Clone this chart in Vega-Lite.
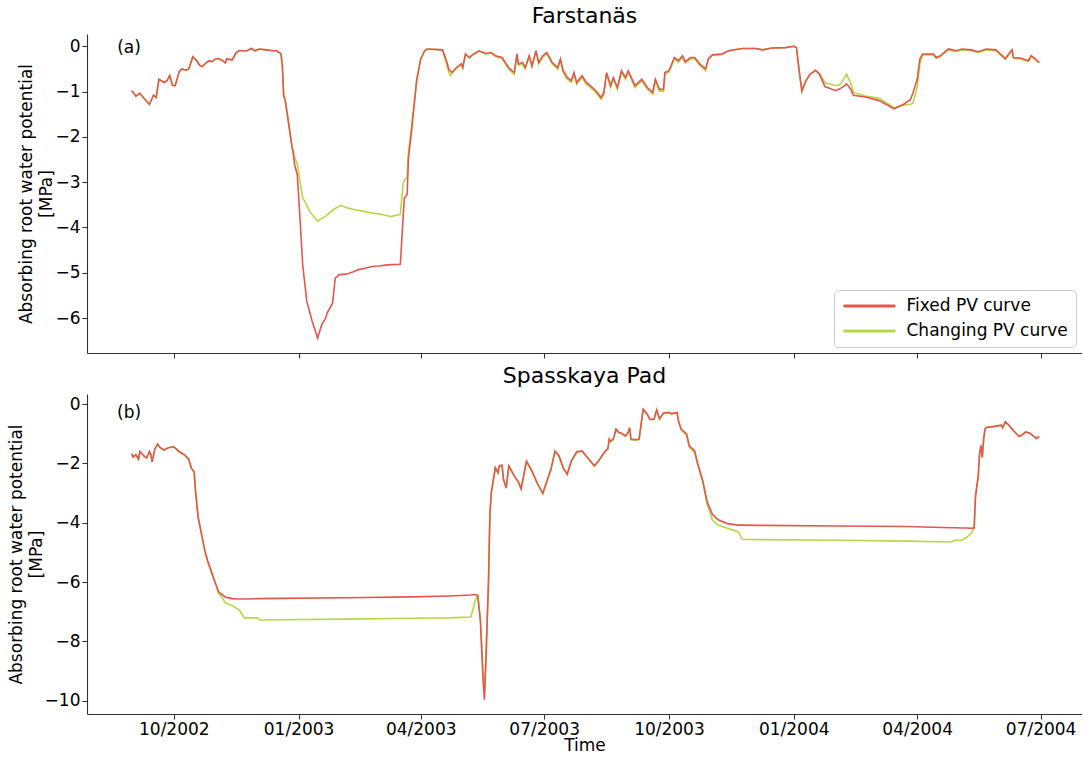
{
  "$schema": "https://vega.github.io/schema/vega-lite/v6.json",
  "background": "white",
  "padding": {"left": 7, "top": 5, "right": 0, "bottom": 0},
  "spacing": 6,
  "config": {
    "font": "DejaVu Sans",
    "view": {"stroke": null},
    "axis": {"grid": false, "domainColor": "#333333", "tickColor": "#333333", "labelColor": "#000000", "titleColor": "#000000", "labelFontSize": 17, "titleFontSize": 17, "titleFontWeight": "normal", "tickSize": 5, "labelPadding": 4, "domainWidth": 1.1, "tickWidth": 1.1},
    "axisY": {"labelPadding": 2},
    "title": {"fontSize": 22, "fontWeight": "normal", "color": "#000000", "offset": 6}
  },
  "resolve": {"legend": {"color": "independent"}},
  "datasets": {
    "farstanas": [
      {"date":"2002-08-31","fixed":-0.98,"changing":-0.98},
      {"date":"2002-09-03","fixed":-1.10,"changing":-1.10},
      {"date":"2002-09-06","fixed":-1.04,"changing":-1.04},
      {"date":"2002-09-09","fixed":-1.15,"changing":-1.15},
      {"date":"2002-09-13","fixed":-1.28,"changing":-1.28},
      {"date":"2002-09-16","fixed":-1.08,"changing":-1.08},
      {"date":"2002-09-18","fixed":-1.13,"changing":-1.13},
      {"date":"2002-09-20","fixed":-0.73,"changing":-0.73},
      {"date":"2002-09-24","fixed":-0.80,"changing":-0.80},
      {"date":"2002-09-26","fixed":-0.76,"changing":-0.76},
      {"date":"2002-09-28","fixed":-0.65,"changing":-0.65},
      {"date":"2002-09-30","fixed":-0.86,"changing":-0.86},
      {"date":"2002-10-02","fixed":-0.87,"changing":-0.87},
      {"date":"2002-10-05","fixed":-0.56,"changing":-0.56},
      {"date":"2002-10-07","fixed":-0.50,"changing":-0.50},
      {"date":"2002-10-10","fixed":-0.53,"changing":-0.53},
      {"date":"2002-10-12","fixed":-0.50,"changing":-0.50},
      {"date":"2002-10-15","fixed":-0.23,"changing":-0.23},
      {"date":"2002-10-18","fixed":-0.32,"changing":-0.32},
      {"date":"2002-10-20","fixed":-0.42,"changing":-0.42},
      {"date":"2002-10-22","fixed":-0.45,"changing":-0.45},
      {"date":"2002-10-25","fixed":-0.36,"changing":-0.36},
      {"date":"2002-10-27","fixed":-0.32,"changing":-0.32},
      {"date":"2002-10-29","fixed":-0.34,"changing":-0.34},
      {"date":"2002-11-01","fixed":-0.28,"changing":-0.28},
      {"date":"2002-11-03","fixed":-0.27,"changing":-0.27},
      {"date":"2002-11-06","fixed":-0.32,"changing":-0.32},
      {"date":"2002-11-08","fixed":-0.37,"changing":-0.37},
      {"date":"2002-11-09","fixed":-0.28,"changing":-0.28},
      {"date":"2002-11-13","fixed":-0.30,"changing":-0.30},
      {"date":"2002-11-16","fixed":-0.14,"changing":-0.14},
      {"date":"2002-11-18","fixed":-0.10,"changing":-0.10},
      {"date":"2002-11-24","fixed":-0.10,"changing":-0.10},
      {"date":"2002-11-27","fixed":-0.05,"changing":-0.05},
      {"date":"2002-11-30","fixed":-0.10,"changing":-0.10},
      {"date":"2002-12-03","fixed":-0.06,"changing":-0.06},
      {"date":"2002-12-08","fixed":-0.08,"changing":-0.08},
      {"date":"2002-12-13","fixed":-0.10,"changing":-0.10},
      {"date":"2002-12-16","fixed":-0.10,"changing":-0.10},
      {"date":"2002-12-19","fixed":-0.17,"changing":-0.17},
      {"date":"2002-12-20","fixed":-0.43,"changing":-0.43},
      {"date":"2002-12-21","fixed":-1.10,"changing":-1.10},
      {"date":"2002-12-22","fixed":-1.17,"changing":-1.17},
      {"date":"2002-12-24","fixed":-1.57,"changing":-1.57},
      {"date":"2002-12-27","fixed":-2.20,"changing":-2.18},
      {"date":"2002-12-28","fixed":-2.35,"changing":-2.31},
      {"date":"2002-12-29","fixed":-2.61,"changing":-2.45},
      {"date":"2002-12-31","fixed":-2.83,"changing":-2.60},
      {"date":"2003-01-02","fixed":-3.79,"changing":-2.98},
      {"date":"2003-01-04","fixed":-4.82,"changing":-3.35},
      {"date":"2003-01-07","fixed":-5.63,"changing":-3.50},
      {"date":"2003-01-09","fixed":-5.85,"changing":-3.64},
      {"date":"2003-01-11","fixed":-6.07,"changing":-3.72},
      {"date":"2003-01-15","fixed":-6.44,"changing":-3.86},
      {"date":"2003-01-18","fixed":-6.15,"changing":-3.80},
      {"date":"2003-01-21","fixed":-6.00,"changing":-3.75},
      {"date":"2003-01-22","fixed":-5.89,"changing":-3.72},
      {"date":"2003-01-26","fixed":-5.67,"changing":-3.62},
      {"date":"2003-01-28","fixed":-5.12,"changing":-3.58},
      {"date":"2003-01-31","fixed":-5.04,"changing":-3.53},
      {"date":"2003-02-01","fixed":-5.04,"changing":-3.51},
      {"date":"2003-02-05","fixed":-5.03,"changing":-3.56},
      {"date":"2003-02-10","fixed":-4.98,"changing":-3.60},
      {"date":"2003-02-14","fixed":-4.93,"changing":-3.62},
      {"date":"2003-02-19","fixed":-4.90,"changing":-3.65},
      {"date":"2003-02-24","fixed":-4.86,"changing":-3.68},
      {"date":"2003-03-01","fixed":-4.85,"changing":-3.70},
      {"date":"2003-03-06","fixed":-4.83,"changing":-3.73},
      {"date":"2003-03-10","fixed":-4.82,"changing":-3.76},
      {"date":"2003-03-17","fixed":-4.81,"changing":-3.71},
      {"date":"2003-03-19","fixed":-3.79,"changing":-3.05},
      {"date":"2003-03-20","fixed":-3.35,"changing":-2.95},
      {"date":"2003-03-22","fixed":-3.27,"changing":-2.90},
      {"date":"2003-03-23","fixed":-2.46,"changing":-2.30},
      {"date":"2003-03-25","fixed":-1.94,"changing":-1.85},
      {"date":"2003-03-27","fixed":-1.35,"changing":-1.30},
      {"date":"2003-03-29","fixed":-0.76,"changing":-0.76},
      {"date":"2003-04-01","fixed":-0.28,"changing":-0.28},
      {"date":"2003-04-04","fixed":-0.10,"changing":-0.10},
      {"date":"2003-04-06","fixed":-0.06,"changing":-0.06},
      {"date":"2003-04-17","fixed":-0.08,"changing":-0.08},
      {"date":"2003-04-20","fixed":-0.32,"changing":-0.40},
      {"date":"2003-04-22","fixed":-0.53,"changing":-0.60},
      {"date":"2003-04-23","fixed":-0.55,"changing":-0.65},
      {"date":"2003-04-24","fixed":-0.58,"changing":-0.60},
      {"date":"2003-04-27","fixed":-0.48,"changing":-0.50},
      {"date":"2003-05-01","fixed":-0.39,"changing":-0.40},
      {"date":"2003-05-02","fixed":-0.47,"changing":-0.48},
      {"date":"2003-05-04","fixed":-0.17,"changing":-0.18},
      {"date":"2003-05-07","fixed":-0.25,"changing":-0.26},
      {"date":"2003-05-09","fixed":-0.19,"changing":-0.20},
      {"date":"2003-05-14","fixed":-0.10,"changing":-0.11},
      {"date":"2003-05-19","fixed":-0.16,"changing":-0.17},
      {"date":"2003-05-23","fixed":-0.14,"changing":-0.15},
      {"date":"2003-05-26","fixed":-0.21,"changing":-0.22},
      {"date":"2003-05-31","fixed":-0.25,"changing":-0.27},
      {"date":"2003-06-05","fixed":-0.48,"changing":-0.51},
      {"date":"2003-06-09","fixed":-0.58,"changing":-0.62},
      {"date":"2003-06-10","fixed":-0.36,"changing":-0.39},
      {"date":"2003-06-11","fixed":-0.17,"changing":-0.20},
      {"date":"2003-06-12","fixed":-0.39,"changing":-0.42},
      {"date":"2003-06-15","fixed":-0.36,"changing":-0.39},
      {"date":"2003-06-17","fixed":-0.47,"changing":-0.50},
      {"date":"2003-06-20","fixed":-0.21,"changing":-0.24},
      {"date":"2003-06-22","fixed":-0.43,"changing":-0.46},
      {"date":"2003-06-25","fixed":-0.10,"changing":-0.13},
      {"date":"2003-06-27","fixed":-0.36,"changing":-0.39},
      {"date":"2003-06-30","fixed":-0.21,"changing":-0.24},
      {"date":"2003-07-03","fixed":-0.14,"changing":-0.17},
      {"date":"2003-07-07","fixed":-0.36,"changing":-0.39},
      {"date":"2003-07-11","fixed":-0.47,"changing":-0.51},
      {"date":"2003-07-13","fixed":-0.28,"changing":-0.31},
      {"date":"2003-07-15","fixed":-0.54,"changing":-0.58},
      {"date":"2003-07-18","fixed":-0.69,"changing":-0.73},
      {"date":"2003-07-21","fixed":-0.76,"changing":-0.80},
      {"date":"2003-07-23","fixed":-0.58,"changing":-0.62},
      {"date":"2003-07-25","fixed":-0.80,"changing":-0.84},
      {"date":"2003-07-29","fixed":-0.65,"changing":-0.69},
      {"date":"2003-08-01","fixed":-0.80,"changing":-0.84},
      {"date":"2003-08-04","fixed":-0.87,"changing":-0.91},
      {"date":"2003-08-08","fixed":-0.98,"changing":-1.02},
      {"date":"2003-08-12","fixed":-1.13,"changing":-1.17},
      {"date":"2003-08-14","fixed":-1.02,"changing":-1.06},
      {"date":"2003-08-16","fixed":-0.58,"changing":-0.62},
      {"date":"2003-08-19","fixed":-0.87,"changing":-0.91},
      {"date":"2003-08-21","fixed":-0.69,"changing":-0.73},
      {"date":"2003-08-24","fixed":-0.91,"changing":-0.95},
      {"date":"2003-08-27","fixed":-0.54,"changing":-0.58},
      {"date":"2003-08-30","fixed":-0.69,"changing":-0.73},
      {"date":"2003-09-01","fixed":-0.54,"changing":-0.58},
      {"date":"2003-09-06","fixed":-0.87,"changing":-0.91},
      {"date":"2003-09-11","fixed":-0.73,"changing":-0.77},
      {"date":"2003-09-15","fixed":-0.91,"changing":-0.95},
      {"date":"2003-09-19","fixed":-1.02,"changing":-1.06},
      {"date":"2003-09-21","fixed":-0.73,"changing":-0.77},
      {"date":"2003-09-24","fixed":-0.95,"changing":-0.99},
      {"date":"2003-09-27","fixed":-0.95,"changing":-0.99},
      {"date":"2003-09-28","fixed":-0.58,"changing":-0.62},
      {"date":"2003-10-01","fixed":-0.54,"changing":-0.57},
      {"date":"2003-10-05","fixed":-0.25,"changing":-0.28},
      {"date":"2003-10-08","fixed":-0.32,"changing":-0.35},
      {"date":"2003-10-11","fixed":-0.21,"changing":-0.24},
      {"date":"2003-10-13","fixed":-0.34,"changing":-0.37},
      {"date":"2003-10-17","fixed":-0.25,"changing":-0.28},
      {"date":"2003-10-20","fixed":-0.25,"changing":-0.28},
      {"date":"2003-10-24","fixed":-0.40,"changing":-0.43},
      {"date":"2003-10-28","fixed":-0.50,"changing":-0.54},
      {"date":"2003-10-30","fixed":-0.28,"changing":-0.30},
      {"date":"2003-11-02","fixed":-0.19,"changing":-0.20},
      {"date":"2003-11-09","fixed":-0.17,"changing":-0.18},
      {"date":"2003-11-14","fixed":-0.10,"changing":-0.10},
      {"date":"2003-11-24","fixed":-0.05,"changing":-0.05},
      {"date":"2003-12-04","fixed":-0.05,"changing":-0.05},
      {"date":"2003-12-09","fixed":-0.08,"changing":-0.08},
      {"date":"2003-12-16","fixed":-0.04,"changing":-0.04},
      {"date":"2003-12-26","fixed":-0.03,"changing":-0.03},
      {"date":"2004-01-01","fixed":0.0,"changing":0.0},
      {"date":"2004-01-03","fixed":-0.03,"changing":-0.03},
      {"date":"2004-01-05","fixed":-0.54,"changing":-0.56},
      {"date":"2004-01-07","fixed":-0.98,"changing":-1.00},
      {"date":"2004-01-10","fixed":-0.76,"changing":-0.77},
      {"date":"2004-01-13","fixed":-0.62,"changing":-0.62},
      {"date":"2004-01-17","fixed":-0.53,"changing":-0.53},
      {"date":"2004-01-20","fixed":-0.62,"changing":-0.60},
      {"date":"2004-01-24","fixed":-0.89,"changing":-0.80},
      {"date":"2004-02-01","fixed":-0.98,"changing":-0.87},
      {"date":"2004-02-04","fixed":-0.94,"changing":-0.85},
      {"date":"2004-02-07","fixed":-0.88,"changing":-0.72},
      {"date":"2004-02-09","fixed":-0.83,"changing":-0.62},
      {"date":"2004-02-12","fixed":-0.95,"changing":-0.82},
      {"date":"2004-02-14","fixed":-1.08,"changing":-1.02},
      {"date":"2004-02-23","fixed":-1.12,"changing":-1.10},
      {"date":"2004-03-04","fixed":-1.20,"changing":-1.15},
      {"date":"2004-03-12","fixed":-1.33,"changing":-1.30},
      {"date":"2004-03-15","fixed":-1.38,"changing":-1.36},
      {"date":"2004-03-22","fixed":-1.28,"changing":-1.30},
      {"date":"2004-03-27","fixed":-1.18,"changing":-1.28},
      {"date":"2004-03-29","fixed":-1.02,"changing":-1.25},
      {"date":"2004-04-01","fixed":-0.73,"changing":-0.90},
      {"date":"2004-04-03","fixed":-0.28,"changing":-0.40},
      {"date":"2004-04-05","fixed":-0.17,"changing":-0.19},
      {"date":"2004-04-13","fixed":-0.17,"changing":-0.19},
      {"date":"2004-04-15","fixed":-0.25,"changing":-0.27},
      {"date":"2004-04-18","fixed":-0.21,"changing":-0.23},
      {"date":"2004-04-24","fixed":-0.06,"changing":-0.08},
      {"date":"2004-04-30","fixed":-0.10,"changing":-0.12},
      {"date":"2004-05-04","fixed":-0.06,"changing":-0.08},
      {"date":"2004-05-11","fixed":-0.08,"changing":-0.10},
      {"date":"2004-05-16","fixed":-0.12,"changing":-0.14},
      {"date":"2004-05-22","fixed":-0.06,"changing":-0.08},
      {"date":"2004-05-29","fixed":-0.08,"changing":-0.10},
      {"date":"2004-06-05","fixed":-0.27,"changing":-0.29},
      {"date":"2004-06-08","fixed":-0.15,"changing":-0.17},
      {"date":"2004-06-10","fixed":-0.08,"changing":-0.10},
      {"date":"2004-06-11","fixed":-0.25,"changing":-0.27},
      {"date":"2004-06-16","fixed":-0.26,"changing":-0.28},
      {"date":"2004-06-22","fixed":-0.32,"changing":-0.34},
      {"date":"2004-06-24","fixed":-0.21,"changing":-0.23},
      {"date":"2004-06-26","fixed":-0.25,"changing":-0.27},
      {"date":"2004-06-30","fixed":-0.36,"changing":-0.37}
    ],
    "spasskaya": [
      {"date":"2002-08-31","fixed":-1.67,"changing":-1.67},
      {"date":"2002-09-01","fixed":-1.78,"changing":-1.78},
      {"date":"2002-09-03","fixed":-1.71,"changing":-1.71},
      {"date":"2002-09-05","fixed":-1.86,"changing":-1.86},
      {"date":"2002-09-06","fixed":-1.60,"changing":-1.60},
      {"date":"2002-09-09","fixed":-1.75,"changing":-1.75},
      {"date":"2002-09-11","fixed":-1.82,"changing":-1.82},
      {"date":"2002-09-13","fixed":-1.60,"changing":-1.60},
      {"date":"2002-09-14","fixed":-1.69,"changing":-1.69},
      {"date":"2002-09-15","fixed":-1.95,"changing":-1.95},
      {"date":"2002-09-17","fixed":-1.52,"changing":-1.52},
      {"date":"2002-09-19","fixed":-1.35,"changing":-1.35},
      {"date":"2002-09-21","fixed":-1.47,"changing":-1.47},
      {"date":"2002-09-24","fixed":-1.55,"changing":-1.55},
      {"date":"2002-09-27","fixed":-1.47,"changing":-1.47},
      {"date":"2002-10-01","fixed":-1.44,"changing":-1.44},
      {"date":"2002-10-03","fixed":-1.52,"changing":-1.54},
      {"date":"2002-10-05","fixed":-1.60,"changing":-1.62},
      {"date":"2002-10-09","fixed":-1.71,"changing":-1.73},
      {"date":"2002-10-12","fixed":-1.86,"changing":-1.88},
      {"date":"2002-10-14","fixed":-2.16,"changing":-2.18},
      {"date":"2002-10-16","fixed":-2.28,"changing":-2.30},
      {"date":"2002-10-17","fixed":-2.93,"changing":-2.95},
      {"date":"2002-10-19","fixed":-3.83,"changing":-3.85},
      {"date":"2002-10-22","fixed":-4.51,"changing":-4.53},
      {"date":"2002-10-24","fixed":-4.96,"changing":-5.00},
      {"date":"2002-10-26","fixed":-5.29,"changing":-5.33},
      {"date":"2002-10-29","fixed":-5.69,"changing":-5.72},
      {"date":"2002-11-01","fixed":-6.08,"changing":-6.10},
      {"date":"2002-11-03","fixed":-6.33,"changing":-6.38},
      {"date":"2002-11-05","fixed":-6.40,"changing":-6.48},
      {"date":"2002-11-08","fixed":-6.51,"changing":-6.70},
      {"date":"2002-11-13","fixed":-6.56,"changing":-6.80},
      {"date":"2002-11-18","fixed":-6.57,"changing":-6.93},
      {"date":"2002-11-22","fixed":-6.57,"changing":-7.21},
      {"date":"2002-12-02","fixed":-6.56,"changing":-7.21},
      {"date":"2002-12-03","fixed":-6.56,"changing":-7.28},
      {"date":"2002-12-17","fixed":-6.55,"changing":-7.27},
      {"date":"2003-02-05","fixed":-6.53,"changing":-7.25},
      {"date":"2003-03-26","fixed":-6.50,"changing":-7.22},
      {"date":"2003-04-22","fixed":-6.47,"changing":-7.21},
      {"date":"2003-05-08","fixed":-6.44,"changing":-7.18},
      {"date":"2003-05-11","fixed":-6.42,"changing":-6.65},
      {"date":"2003-05-13","fixed":-6.45,"changing":-6.42},
      {"date":"2003-05-15","fixed":-7.32,"changing":-7.20},
      {"date":"2003-05-17","fixed":-9.35,"changing":-9.10},
      {"date":"2003-05-18","fixed":-9.97,"changing":-9.60},
      {"date":"2003-05-19","fixed":-8.78,"changing":-8.60},
      {"date":"2003-05-21","fixed":-5.97,"changing":-5.90},
      {"date":"2003-05-22","fixed":-3.72,"changing":-3.70},
      {"date":"2003-05-23","fixed":-3.00,"changing":-3.00},
      {"date":"2003-05-26","fixed":-2.14,"changing":-2.16},
      {"date":"2003-05-28","fixed":-2.31,"changing":-2.33},
      {"date":"2003-05-29","fixed":-2.08,"changing":-2.10},
      {"date":"2003-05-31","fixed":-2.06,"changing":-2.08},
      {"date":"2003-06-01","fixed":-2.53,"changing":-2.55},
      {"date":"2003-06-03","fixed":-2.82,"changing":-2.84},
      {"date":"2003-06-05","fixed":-2.08,"changing":-2.10},
      {"date":"2003-06-09","fixed":-2.42,"changing":-2.44},
      {"date":"2003-06-12","fixed":-2.62,"changing":-2.64},
      {"date":"2003-06-14","fixed":-2.85,"changing":-2.87},
      {"date":"2003-06-18","fixed":-1.92,"changing":-1.94},
      {"date":"2003-06-22","fixed":-2.25,"changing":-2.27},
      {"date":"2003-06-26","fixed":-2.67,"changing":-2.69},
      {"date":"2003-06-30","fixed":-3.01,"changing":-3.03},
      {"date":"2003-07-03","fixed":-2.59,"changing":-2.61},
      {"date":"2003-07-06","fixed":-2.20,"changing":-2.22},
      {"date":"2003-07-09","fixed":-1.58,"changing":-1.60},
      {"date":"2003-07-12","fixed":-1.75,"changing":-1.77},
      {"date":"2003-07-15","fixed":-2.14,"changing":-2.16},
      {"date":"2003-07-18","fixed":-2.36,"changing":-2.38},
      {"date":"2003-07-21","fixed":-1.92,"changing":-1.94},
      {"date":"2003-07-25","fixed":-1.61,"changing":-1.63},
      {"date":"2003-07-29","fixed":-1.58,"changing":-1.60},
      {"date":"2003-08-02","fixed":-1.80,"changing":-1.82},
      {"date":"2003-08-07","fixed":-2.08,"changing":-2.10},
      {"date":"2003-08-10","fixed":-1.92,"changing":-1.94},
      {"date":"2003-08-15","fixed":-1.58,"changing":-1.60},
      {"date":"2003-08-17","fixed":-1.50,"changing":-1.52},
      {"date":"2003-08-18","fixed":-1.18,"changing":-1.20},
      {"date":"2003-08-19","fixed":-1.25,"changing":-1.27},
      {"date":"2003-08-21","fixed":-1.18,"changing":-1.20},
      {"date":"2003-08-23","fixed":-0.84,"changing":-0.86},
      {"date":"2003-08-25","fixed":-0.95,"changing":-0.97},
      {"date":"2003-08-27","fixed":-0.98,"changing":-1.00},
      {"date":"2003-08-30","fixed":-1.07,"changing":-1.09},
      {"date":"2003-09-01","fixed":-0.95,"changing":-0.97},
      {"date":"2003-09-02","fixed":-0.79,"changing":-0.81},
      {"date":"2003-09-03","fixed":-1.18,"changing":-1.20},
      {"date":"2003-09-06","fixed":-1.20,"changing":-1.22},
      {"date":"2003-09-09","fixed":-1.18,"changing":-1.20},
      {"date":"2003-09-12","fixed":-0.17,"changing":-0.19},
      {"date":"2003-09-15","fixed":-0.34,"changing":-0.36},
      {"date":"2003-09-17","fixed":-0.51,"changing":-0.53},
      {"date":"2003-09-20","fixed":-0.51,"changing":-0.53},
      {"date":"2003-09-22","fixed":-0.19,"changing":-0.21},
      {"date":"2003-09-24","fixed":-0.49,"changing":-0.51},
      {"date":"2003-09-27","fixed":-0.30,"changing":-0.32},
      {"date":"2003-10-01","fixed":-0.28,"changing":-0.30},
      {"date":"2003-10-03","fixed":-0.32,"changing":-0.34},
      {"date":"2003-10-07","fixed":-0.28,"changing":-0.30},
      {"date":"2003-10-08","fixed":-0.56,"changing":-0.58},
      {"date":"2003-10-10","fixed":-0.84,"changing":-0.87},
      {"date":"2003-10-14","fixed":-1.01,"changing":-1.05},
      {"date":"2003-10-16","fixed":-1.41,"changing":-1.45},
      {"date":"2003-10-20","fixed":-1.58,"changing":-1.65},
      {"date":"2003-10-22","fixed":-1.97,"changing":-2.02},
      {"date":"2003-10-26","fixed":-2.59,"changing":-2.65},
      {"date":"2003-10-28","fixed":-3.04,"changing":-3.10},
      {"date":"2003-10-29","fixed":-3.27,"changing":-3.35},
      {"date":"2003-11-02","fixed":-3.72,"changing":-3.90},
      {"date":"2003-11-06","fixed":-3.89,"changing":-4.08},
      {"date":"2003-11-13","fixed":-4.03,"changing":-4.19},
      {"date":"2003-11-21","fixed":-4.08,"changing":-4.30},
      {"date":"2003-11-24","fixed":-4.08,"changing":-4.56},
      {"date":"2003-12-06","fixed":-4.09,"changing":-4.57},
      {"date":"2004-02-03","fixed":-4.11,"changing":-4.59},
      {"date":"2004-03-24","fixed":-4.13,"changing":-4.62},
      {"date":"2004-04-26","fixed":-4.17,"changing":-4.65},
      {"date":"2004-04-29","fixed":-4.17,"changing":-4.59},
      {"date":"2004-05-04","fixed":-4.18,"changing":-4.59},
      {"date":"2004-05-08","fixed":-4.18,"changing":-4.48},
      {"date":"2004-05-11","fixed":-4.19,"changing":-4.34},
      {"date":"2004-05-13","fixed":-4.17,"changing":-4.17},
      {"date":"2004-05-14","fixed":-3.10,"changing":-3.10},
      {"date":"2004-05-16","fixed":-2.42,"changing":-2.42},
      {"date":"2004-05-17","fixed":-1.69,"changing":-1.69},
      {"date":"2004-05-18","fixed":-1.39,"changing":-1.39},
      {"date":"2004-05-19","fixed":-1.80,"changing":-1.80},
      {"date":"2004-05-20","fixed":-1.18,"changing":-1.18},
      {"date":"2004-05-21","fixed":-0.84,"changing":-0.84},
      {"date":"2004-05-22","fixed":-0.79,"changing":-0.79},
      {"date":"2004-05-27","fixed":-0.76,"changing":-0.76},
      {"date":"2004-06-02","fixed":-0.71,"changing":-0.71},
      {"date":"2004-06-03","fixed":-0.79,"changing":-0.79},
      {"date":"2004-06-05","fixed":-0.60,"changing":-0.60},
      {"date":"2004-06-08","fixed":-0.73,"changing":-0.73},
      {"date":"2004-06-11","fixed":-0.90,"changing":-0.90},
      {"date":"2004-06-15","fixed":-1.09,"changing":-1.09},
      {"date":"2004-06-17","fixed":-1.05,"changing":-1.05},
      {"date":"2004-06-20","fixed":-0.94,"changing":-0.94},
      {"date":"2004-06-23","fixed":-0.98,"changing":-0.98},
      {"date":"2004-06-26","fixed":-1.09,"changing":-1.09},
      {"date":"2004-06-28","fixed":-1.16,"changing":-1.16},
      {"date":"2004-06-30","fixed":-1.09,"changing":-1.09}
    ],
    "labels": [
      {"panel":"a","label":"(a)","date":"2002-08-29","v":-0.03},
      {"panel":"b","label":"(b)","date":"2002-08-29","v":-0.29}
    ]
  },
  "vconcat": [
    {
      "title": "Farstanäs",
      "width": 995,
      "height": 319,
      "layer": [
        {
          "data": {"name": "farstanas"},
          "mark": {"type": "line", "strokeWidth": 1.6},
          "encoding": {
            "x": {"field": "date", "type": "temporal",
              "scale": {"type": "utc", "domain": [{"year":2002,"month":7,"date":29,"utc":true},{"year":2004,"month":7,"date":31,"hours":12,"utc":true}]},
              "axis": {"labels": false, "title": null, "values": [{"year":2002,"month":10,"date":1,"utc":true},{"year":2003,"month":1,"date":1,"utc":true},{"year":2003,"month":4,"date":1,"utc":true},{"year":2003,"month":7,"date":1,"utc":true},{"year":2003,"month":10,"date":1,"utc":true},{"year":2004,"month":1,"date":1,"utc":true},{"year":2004,"month":4,"date":1,"utc":true},{"year":2004,"month":7,"date":1,"utc":true}]}},
            "y": {"field": "changing", "type": "quantitative",
              "scale": {"domain": [-6.77, 0.27], "nice": false, "zero": false},
              "axis": {"values": [0,-1,-2,-3,-4,-5,-6], "title": ["Absorbing root water potential", "[MPa]"], "titlePadding": -1, "titleLineHeight": 20}},
            "color": {"datum": "Changing PV curve", "type": "nominal",
              "scale": {"domain": ["Fixed PV curve", "Changing PV curve"], "range": ["#e0584e", "#b7d745"]},
              "legend": {"title": null, "orient": "bottom-right", "offset": 6, "symbolType": "M-1,0H7", "symbolSize": 169, "symbolStrokeWidth": 2.8, "symbolFillColor": "transparent", "labelFontSize": 17, "labelOffset": 48, "rowPadding": 7, "padding": 7.5, "strokeColor": "#cccccc", "fillColor": "rgba(255,255,255,0.8)", "cornerRadius": 4, "labelColor": "#000000", "labelLimit": 0}}
          }
        },
        {
          "data": {"name": "farstanas"},
          "mark": {"type": "line", "strokeWidth": 1.6},
          "encoding": {
            "x": {"field": "date", "type": "temporal"},
            "y": {"field": "fixed", "type": "quantitative"},
            "color": {"datum": "Fixed PV curve", "type": "nominal"}
          }
        },
        {
          "data": {"name": "labels"},
          "transform": [{"filter": "datum.panel === 'a'"}],
          "mark": {"type": "text", "fontSize": 17, "align": "center", "baseline": "middle", "color": "#000000"},
          "encoding": {
            "x": {"field": "date", "type": "temporal"},
            "y": {"field": "v", "type": "quantitative"},
            "text": {"field": "label"}
          }
        }
      ]
    },
    {
      "title": "Spasskaya Pad",
      "width": 995,
      "height": 320,
      "layer": [
        {
          "data": {"name": "spasskaya"},
          "mark": {"type": "line", "strokeWidth": 1.6},
          "encoding": {
            "x": {"field": "date", "type": "temporal",
              "scale": {"type": "utc", "domain": [{"year":2002,"month":7,"date":29,"utc":true},{"year":2004,"month":7,"date":31,"hours":12,"utc":true}]},
              "axis": {"title": "Time", "format": "%m/%Y", "labelPadding": 2, "titlePadding": 0, "labelFlush": false, "values": [{"year":2002,"month":10,"date":1,"utc":true},{"year":2003,"month":1,"date":1,"utc":true},{"year":2003,"month":4,"date":1,"utc":true},{"year":2003,"month":7,"date":1,"utc":true},{"year":2003,"month":10,"date":1,"utc":true},{"year":2004,"month":1,"date":1,"utc":true},{"year":2004,"month":4,"date":1,"utc":true},{"year":2004,"month":7,"date":1,"utc":true}]}},
            "y": {"field": "changing", "type": "quantitative",
              "scale": {"domain": [-10.45, 0.34], "nice": false, "zero": false},
              "axis": {"values": [0,-2,-4,-6,-8,-10], "title": ["Absorbing root water potential", "[MPa]"], "titlePadding": -1, "titleLineHeight": 20}},
            "color": {"datum": "Changing PV curve", "type": "nominal",
              "scale": {"domain": ["Fixed PV curve", "Changing PV curve"], "range": ["#e0584e", "#b7d745"]},
              "legend": null}
          }
        },
        {
          "data": {"name": "spasskaya"},
          "mark": {"type": "line", "strokeWidth": 1.6},
          "encoding": {
            "x": {"field": "date", "type": "temporal"},
            "y": {"field": "fixed", "type": "quantitative"},
            "color": {"datum": "Fixed PV curve", "type": "nominal", "legend": null}
          }
        },
        {
          "data": {"name": "labels"},
          "transform": [{"filter": "datum.panel === 'b'"}],
          "mark": {"type": "text", "fontSize": 17, "align": "center", "baseline": "middle", "color": "#000000"},
          "encoding": {
            "x": {"field": "date", "type": "temporal"},
            "y": {"field": "v", "type": "quantitative"},
            "text": {"field": "label"}
          }
        }
      ]
    }
  ]
}
